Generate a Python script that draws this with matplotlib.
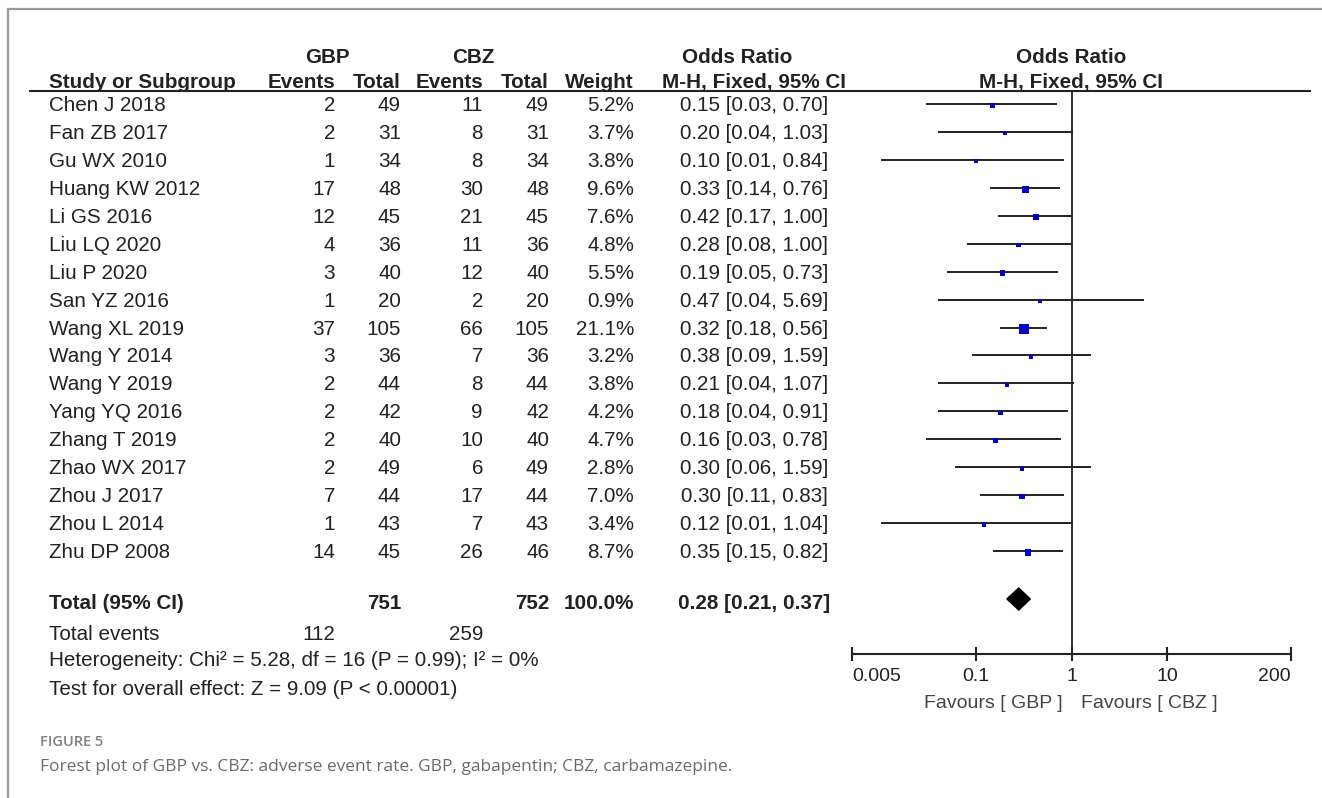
import matplotlib
matplotlib.use("Agg")
import matplotlib.pyplot as plt
from matplotlib.lines import Line2D
from matplotlib.patches import Polygon
import numpy as np

plt.rcParams["font.family"] = ["Liberation Sans", "DejaVu Sans"]

# ---- data -------------------------------------------------------------
studies = ["Chen J 2018", "Fan ZB 2017", "Gu WX 2010", "Huang KW 2012",
           "Li GS 2016", "Liu LQ 2020", "Liu P 2020", "San YZ 2016",
           "Wang XL 2019", "Wang Y 2014", "Wang Y 2019", "Yang YQ 2016",
           "Zhang T 2019", "Zhao WX 2017", "Zhou J 2017", "Zhou L 2014",
           "Zhu DP 2008"]
gbp_events = [2, 2, 1, 17, 12, 4, 3, 1, 37, 3, 2, 2, 2, 2, 7, 1, 14]
gbp_total = [49, 31, 34, 48, 45, 36, 40, 20, 105, 36, 44, 42, 40, 49, 44, 43, 45]
cbz_events = [11, 8, 8, 30, 21, 11, 12, 2, 66, 7, 8, 9, 10, 6, 17, 7, 26]
cbz_total = [49, 31, 34, 48, 45, 36, 40, 20, 105, 36, 44, 42, 40, 49, 44, 43, 46]
weight = [5.2, 3.7, 3.8, 9.6, 7.6, 4.8, 5.5, 0.9, 21.1, 3.2, 3.8, 4.2, 4.7, 2.8,
          7.0, 3.4, 8.7]
odds = [0.15, 0.20, 0.10, 0.33, 0.42, 0.28, 0.19, 0.47, 0.32, 0.38, 0.21, 0.18,
        0.16, 0.30, 0.30, 0.12, 0.35]
ci_low = [0.03, 0.04, 0.01, 0.14, 0.17, 0.08, 0.05, 0.04, 0.18, 0.09, 0.04, 0.04,
          0.03, 0.06, 0.11, 0.01, 0.15]
ci_high = [0.70, 1.03, 0.84, 0.76, 1.00, 1.00, 0.73, 5.69, 0.56, 1.59, 1.07, 0.91,
           0.78, 1.59, 0.83, 1.04, 0.82]

total_gbp = 751
total_cbz = 752
events_gbp = 112
events_cbz = 259
pooled = (0.28, 0.21, 0.37)
heterogeneity = "Heterogeneity: Chi\u00b2 = 5.28, df = 16 (P = 0.99); I\u00b2 = 0%"
overall = "Test for overall effect: Z = 9.09 (P < 0.00001)"

tick_vals = [0.005, 0.1, 1, 10, 200]
tick_labels = ["0.005", "0.1", "1", "10", "200"]

# ---- layout (pixels) --------------------------------------------------
W, H = 1322, 798
ROW0, STEP = 104.0, 27.94         # centre of first study row, row pitch
RULE_Y, AXIS_Y = 91, 654
FS = 14.9
INK = "#222222"

col_name = 49
col_ge, col_gt, col_ce, col_ct, col_w = 335, 401, 483, 549, 634
col_or = 754

fig = plt.figure(figsize=(W / 100, H / 100), dpi=100)
ax_txt = fig.add_axes([0, 0, 1, 1])
ax_txt.set_xlim(0, W)
ax_txt.set_ylim(H, 0)
ax_txt.axis("off")


def put(x, y, s, ha="left", bold=False, **kw):
    kw.setdefault("fontsize", FS)
    kw.setdefault("color", INK)
    kw.setdefault("fontweight", "bold" if bold else "normal")
    ax_txt.text(x, y, s, ha=ha, va="baseline", **kw)


# outer frame (top and left edges)
ax_txt.add_line(Line2D([8, W], [9, 9], color="#9a9a9a", lw=1.6))
ax_txt.add_line(Line2D([8, 8], [9, H], color="#9a9a9a", lw=1.6))

# header
put(327, 63, "GBP", ha="center", bold=True)
put(473, 63, "CBZ", ha="center", bold=True)
put(737, 63, "Odds Ratio", ha="center", bold=True)
put(1071, 63, "Odds Ratio", ha="center", bold=True)
put(col_name, 88, "Study or Subgroup", bold=True)
put(col_ge, 88, "Events", ha="right", bold=True)
put(col_gt, 88, "Total", ha="right", bold=True)
put(col_ce, 88, "Events", ha="right", bold=True)
put(col_ct, 88, "Total", ha="right", bold=True)
put(col_w, 88, "Weight", ha="right", bold=True)
put(col_or, 88, "M-H, Fixed, 95% CI", ha="center", bold=True)
put(1071, 88, "M-H, Fixed, 95% CI", ha="center", bold=True)
ax_txt.add_line(Line2D([30, 1310], [RULE_Y, RULE_Y], color=INK, lw=1.5))

# study rows
for i, name in enumerate(studies):
    yb = ROW0 + STEP * i + 7
    put(col_name, yb, name)
    put(col_ge, yb, str(gbp_events[i]), ha="right")
    put(col_gt, yb, str(gbp_total[i]), ha="right")
    put(col_ce, yb, str(cbz_events[i]), ha="right")
    put(col_ct, yb, str(cbz_total[i]), ha="right")
    put(col_w, yb, f"{weight[i]:.1f}%", ha="right")
    put(col_or, yb, f"{odds[i]:.2f} [{ci_low[i]:.2f}, {ci_high[i]:.2f}]", ha="center")

# totals and summary lines
put(col_name, 609, "Total (95% CI)", bold=True)
put(col_gt, 609, str(total_gbp), ha="right", bold=True)
put(col_ct, 609, str(total_cbz), ha="right", bold=True)
put(col_w, 609, f"{sum(weight):.1f}%", ha="right", bold=True)
put(col_or, 609, f"{pooled[0]:.2f} [{pooled[1]:.2f}, {pooled[2]:.2f}]",
    ha="center", bold=True)
put(col_name, 640, "Total events")
put(col_ge, 640, str(events_gbp), ha="right")
put(col_ce, 640, str(events_cbz), ha="right")
put(col_name, 666, heterogeneity)
put(col_name, 695, overall)

# favours labels
put(1063, 708, "Favours [ GBP ]", ha="right", fontsize=14, color="#444444")
put(1081, 708, "Favours [ CBZ ]", ha="left", fontsize=14, color="#444444")

# caption
put(40, 746, "FIGURE 5", fontsize=10.5, color="#808080", family="Open Sans",
    fontweight="semibold")
put(40, 771, "Forest plot of GBP vs. CBZ: adverse event rate. GBP, gabapentin; "
    "CBZ, carbamazepine.", fontsize=12.5, color="#6b6b6b", family="Open Sans")

# ---- forest panel -----------------------------------------------------
x0, x1 = 852, 1291
y_top = (RULE_Y - ROW0) / STEP
y_bot = (AXIS_Y - ROW0) / STEP
ax = fig.add_axes([x0 / W, 1 - AXIS_Y / H, (x1 - x0) / W, (AXIS_Y - RULE_Y) / H])
ax.patch.set_alpha(0)
ax.set_xscale("log")
ax.set_xlim(tick_vals[0], tick_vals[-1])
ax.set_ylim(y_bot, y_top)
for side in ("top", "left", "right"):
    ax.spines[side].set_visible(False)
ax.spines["bottom"].set_linewidth(1.5)
ax.spines["bottom"].set_color(INK)
ax.set_yticks([])
ax.set_xticks(tick_vals)
ax.set_xticklabels(tick_labels)
ax.xaxis.set_minor_locator(matplotlib.ticker.NullLocator())
ax.tick_params(axis="x", direction="inout", length=10, width=1.5, color=INK,
               labelsize=14, labelcolor=INK, pad=5)
labels = ax.get_xticklabels()
labels[0].set_ha("left")
labels[-1].set_ha("right")

ax.axvline(1, color=INK, lw=1.3)

rows = np.arange(len(studies))
ax.hlines(rows, ci_low, ci_high, color=INK, lw=1.4)
# square side grows with study weight, with a floor so small studies stay visible
side_px = np.maximum(4.0, 10.0 * np.sqrt(np.array(weight) / 21.1))
ax.scatter(odds, rows + 0.05, marker="s", s=(side_px * 0.72) ** 2,
           color="#0000cc", linewidths=0, zorder=3)

y_tot = (599 - ROW0) / STEP
half = 11 / STEP
ax.add_patch(Polygon([(pooled[1], y_tot), (pooled[0], y_tot - half),
                      (pooled[2], y_tot), (pooled[0], y_tot + half)],
                     closed=True, color="black", zorder=3))

fig.savefig("out.png", dpi=100)
